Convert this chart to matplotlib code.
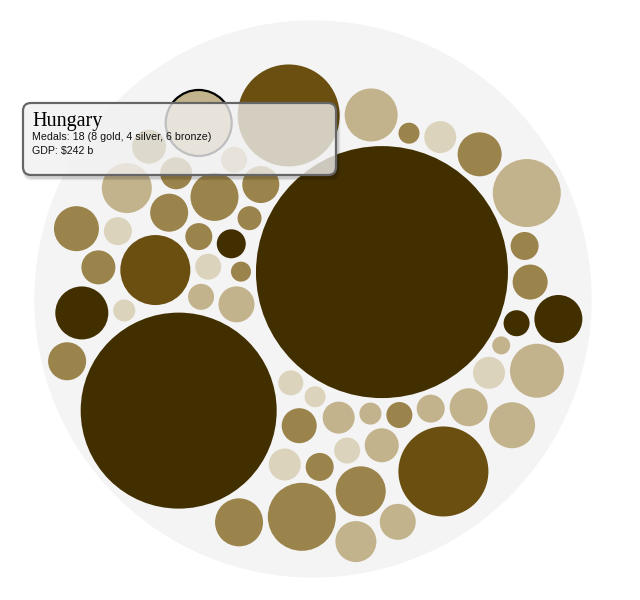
import numpy as np
import matplotlib
matplotlib.use("Agg")
import matplotlib.pyplot as plt
from matplotlib.patches import Circle, FancyBboxPatch

# bubble radius (px) and colour class, 0 = lightest ... 4 = darkest
radii = [16, 22, 33, 18, 14, 45, 23, 14, 9, 98, 19, 12, 13, 13, 13, 126, 10.5, 16, 34, 24,
         11, 19, 14, 25, 13.5, 34, 10, 51, 14.5, 19, 17.5, 11, 17, 16, 16, 24, 20.5, 13, 13, 13,
         26.5, 17, 35, 18.5, 14, 18, 16, 17, 22.5, 27, 17.5, 10.5, 25, 26.5, 12.5, 24]
levels = [0, 2, 1, 1, 1, 3, 1, 0, 1, 4, 2, 2, 2, 1, 1, 4, 2, 1, 1, 4,
          1, 1, 2, 2, 2, 2, 2, 3, 4, 2, 2, 0, 2, 2, 0, 2, 1, 0, 0, 4,
          4, 1, 3, 2, 2, 1, 0, 2, 2, 1, 2, 0, 1, 1, 0, 2]
palette = ['#dcd3bd', '#c3b38c', '#9b844b', '#6a4f10', '#422f00']
hungary = 2
tip_title = 'Hungary'
tip_lines = ['Medals: 18 (8 gold, 4 silver, 6 bronze)', 'GDP: $242 b']

W, H = 640, 600
cx, cy = 313, 299
pad = 2.5

# --- simple force layout (centering + collision), d3 style ---
r = np.array(radii, float)
n = len(r)
order = np.argsort(-r, kind='stable')
rank = np.empty(n)
rank[order] = np.arange(n)
ang = rank * np.pi * (3 - np.sqrt(5))
rad = 10 * np.sqrt(0.5 + rank)
x = rad * np.cos(ang)
y = rad * np.sin(ang)
vx = np.zeros(n)
vy = np.zeros(n)
alpha = 1.0
decay = 1 - 0.001 ** (1 / 300)
rr = r + pad
for step in range(400):
    alpha += (0.0 - alpha) * decay
    vx += -x * 0.04 * alpha
    vy += -y * 0.04 * alpha
    for it in range(2):
        for a in range(n):
            xi = x[a] + vx[a]
            yi = y[a] + vy[a]
            for b in range(a + 1, n):
                dx = xi - x[b] - vx[b]
                dy = yi - y[b] - vy[b]
                R = rr[a] + rr[b]
                l2 = dx * dx + dy * dy
                if l2 < R * R:
                    l = np.sqrt(l2) + 1e-9
                    k = (R - l) / l * 0.7
                    dx *= k
                    dy *= k
                    w = rr[b] ** 2 / (rr[a] ** 2 + rr[b] ** 2)
                    vx[a] += dx * w
                    vy[a] += dy * w
                    vx[b] -= dx * (1 - w)
                    vy[b] -= dy * (1 - w)
    vx *= 0.6
    vy *= 0.6
    x += vx
    y += vy

# enclosing circle (iterative, move toward farthest)
ex, ey = x.mean(), y.mean()
for k in range(1, 4000):
    d = np.hypot(x - ex, y - ey) + r
    j = d.argmax()
    ex += (x[j] - ex) / (k + 1)
    ey += (y[j] - ey) / (k + 1)
er = (np.hypot(x - ex, y - ey) + r).max()
x = x - ex + cx
y = y - ey + cy

fig = plt.figure(figsize=(W / 100, H / 100), dpi=100)
ax = fig.add_axes([0, 0, 1, 1])
ax.set_xlim(0, W)
ax.set_ylim(H, 0)
ax.set_aspect('equal')
ax.axis('off')

ax.add_patch(Circle((cx, cy), er + 6, color='#f4f4f4', lw=0, zorder=1))
for k in range(n):
    ax.add_patch(Circle((x[k], y[k]), r[k], facecolor=palette[levels[k]], lw=0, zorder=2))
ax.add_patch(Circle((x[hungary], y[hungary]), r[hungary], facecolor='none',
                    edgecolor='black', lw=1.6, zorder=3))

# tooltip (html overlay in the original, drawn at the pointer)
bx0, by0, bw, bh = 23, 103, 313, 72
for s, al in [(5, 0.04), (3.5, 0.06), (2, 0.08)]:
    ax.add_patch(FancyBboxPatch((bx0 + 2 - s / 2, by0 + 3 - s / 2), bw + s, bh + s,
                                boxstyle='round,pad=0,rounding_size=9',
                                facecolor='black', alpha=al, lw=0, zorder=4))
ax.add_patch(FancyBboxPatch((bx0, by0), bw, bh, boxstyle='round,pad=0,rounding_size=8',
                            facecolor=(1, 1, 1, 0.75), edgecolor='#666666', lw=1.6, zorder=5))
ax.text(bx0 + 9, by0 + 9, tip_title, family='Liberation Serif', fontsize=14.5,
        va='top', ha='left', zorder=6)
ax.text(bx0 + 9, by0 + 29, tip_lines[0], family='Liberation Sans', fontsize=7.7,
        va='top', ha='left', zorder=6, color='#111111')
ax.text(bx0 + 9, by0 + 43, tip_lines[1], family='Liberation Sans', fontsize=7.7,
        va='top', ha='left', zorder=6, color='#111111')

fig.savefig('out.png', dpi=100)
